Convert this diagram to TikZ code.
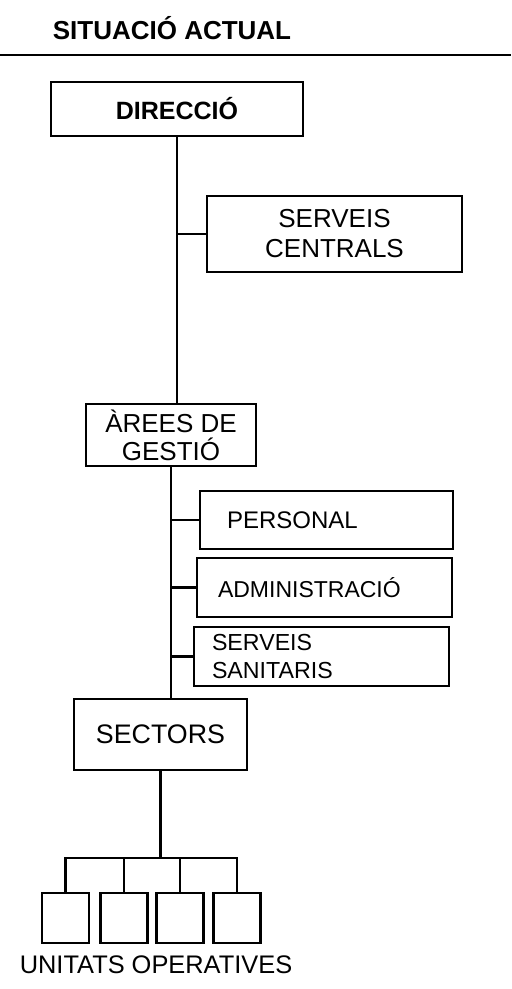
\documentclass[tikz,border=0pt]{standalone}
\usepackage{fontspec}
\setmainfont{Liberation Sans}
\usetikzlibrary{positioning}

\begin{document}
\begin{tikzpicture}[x=0.5pt, y=-0.5pt, line width=1.4pt,
    box/.style={draw, inner sep=0pt, align=center},
    sidebox/.style={draw, inner ysep=0pt, align=left},
    unit/.style={draw, inner sep=0pt, minimum width=23.5pt, minimum height=25pt}]
    \useasboundingbox (0,0) rectangle (511,989);

    % Capcalera
    \node[font=\bfseries\fontsize{13}{15}\selectfont] (title) at (172,28) {SITUACIÓ ACTUAL};
    \draw (0,55) -- (511,55);

    % Caixes principals
    \node[box, minimum width=126pt, minimum height=27pt, font=\bfseries\fontsize{12.5}{14}\selectfont] (dir) at (177,109) {DIRECCIÓ};
    \node[box, minimum width=127.5pt, minimum height=38pt, font=\fontsize{13}{15}\selectfont] (sc) at (334.5,234) {SERVEIS\\CENTRALS};
    \node[box, minimum width=85pt, minimum height=31pt, font=\fontsize{13}{14}\selectfont] (ag) at (171,435) {ÀREES DE\\GESTIÓ};
    \node[box, minimum width=86.5pt, minimum height=35.5pt, font=\fontsize{13.4}{15}\selectfont] (sec) at (160.5,734.5) {SECTORS};

    % Caixes laterals
    \node[sidebox, minimum height=29pt, text width=99.5pt, inner xsep=13.5pt, font=\fontsize{12}{14}\selectfont] (per) at (326.5,520) {PERSONAL};
    \node[sidebox, minimum height=29.5pt, text width=106.5pt, inner xsep=10.5pt, font=\fontsize{11.5}{14}\selectfont] (adm) at (324.5,587.5) {ADMINISTRACIÓ};
    \node[sidebox, minimum height=29.5pt, text width=109.5pt, inner xsep=9pt, font=\fontsize{11.6}{14}\selectfont] (ss) at (321.5,656.5) {SERVEIS\\SANITARIS};

    % Unitats
    \node[unit] (u1) at (65.5,918) {};
    \node[unit] (u2) at (124,918) {};
    \node[unit] (u3) at (180,918) {};
    \node[unit] (u4) at (237,918) {};
    \node[font=\fontsize{12.7}{15}\selectfont] (uo) at (156,965) {UNITATS OPERATIVES};

    % Connexions
    \draw (dir.south) -- (dir.south |- ag.north);
    \draw (sc.west) -- (sc.west -| dir.south);
    \draw (ag.south) -- (ag.south |- sec.north);
    \draw (per.west) -- (per.west -| ag.south);
    \draw (adm.west) -- (adm.west -| ag.south);
    \draw (ss.west) -- (ss.west -| ag.south);
    \coordinate (bar) at (sec.south |- 0,858);
    \draw (sec.south) -- (bar);
    \draw (u1.north) |- (bar) -| (u4.north);
    \draw (u2.north) -- (u2.north |- bar);
    \draw (u3.north) -- (u3.north |- bar);
\end{tikzpicture}
\end{document}
